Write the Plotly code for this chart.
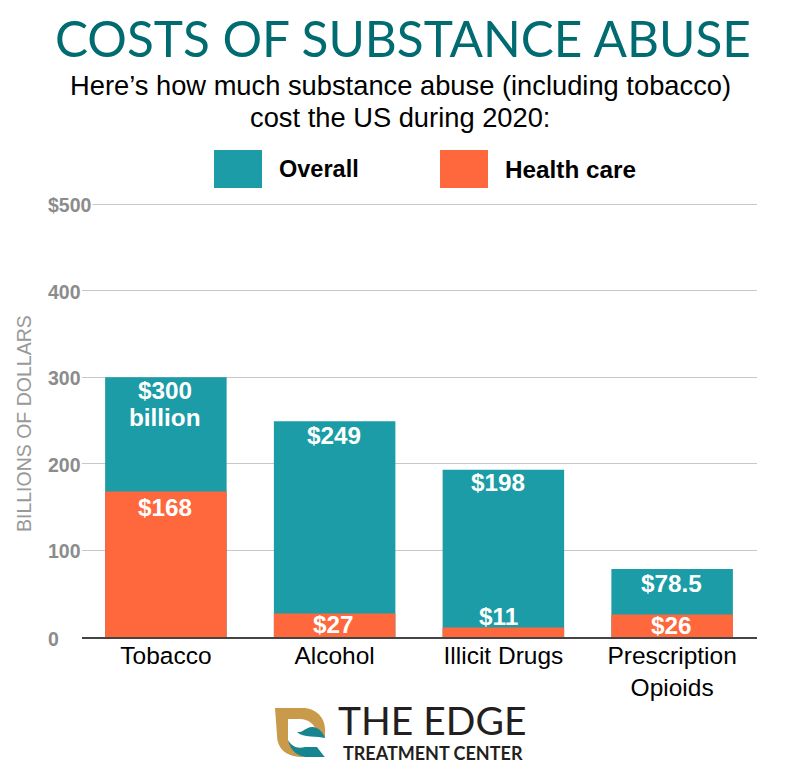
import plotly.graph_objects as go

categories = ["Tobacco", "Alcohol", "Illicit Drugs", "Prescription<br>Opioids"]
overall = [300, 249, 193, 78.5]
health_care = [168, 27, 11, 26]
overall_labels = ["$300", "$249", "$198", "$78.5"]
overall_label_y = [285, 233, 178, 62]
health_labels = ["$168", "$27", "$11", "$26"]
health_label_y = [150, 14, 24, 13]
label_shift = [-1, -1, -5, -1]
tick_vals = [0, 100, 200, 300, 400, 500]
tick_text = ["0", "100", "200", "300", "400", "$500"]

# The page sits 8 px in from the window corner
OFF = 8
W, H = 800 - OFF, 774 - OFF
TEAL = "#1b9ca6"
ORANGE = "#ff673c"
SANS = "Liberation Sans, Arial, sans-serif"
LATO = "Lato, sans-serif"
BAR_TEXT = 24.3


def px(x):
    return (x - OFF) / W


def py(y):
    return 1 - (y - OFF) / H


def path(cmds):
    out = []
    for c in cmds:
        if isinstance(c, str):
            out.append(c)
        else:
            out.append(f"{px(c[0]):.5f},{py(c[1]):.5f}")
    return " ".join(out)


fig = go.Figure()
fig.add_bar(x=categories, y=overall, name="Overall", marker_color=TEAL, marker_line_width=0, width=0.72)
fig.add_bar(x=categories, y=health_care, name="Health care", marker_color=ORANGE, marker_line_width=0, width=0.72)

ann = []


def text(x, y, s, size, color="#000", family=SANS, anchor="center", angle=0):
    ann.append(dict(xref="paper", yref="paper", x=px(x), y=py(y), text=s, showarrow=False,
                    xanchor=anchor, yanchor="middle", align="center", textangle=angle,
                    font=dict(size=size, color=color, family=family)))


text(402.5, 38, "COSTS OF SUBSTANCE ABUSE", 49.5, "#006b70", LATO)
text(400, 86, "Here’s how much substance abuse (including tobacco)", 27.3)
text(400, 118, "cost the US during 2020:", 27.3)
text(277, 169, "<b>Overall</b>", 23.5, anchor="left")
text(503, 169, "<b>Health care</b>", 24.3, anchor="left")
text(432, 720, "THE EDGE", 39, "#231f20", LATO)
text(433.5, 752.5, "<b>TREATMENT CENTER</b>", 18, "#231f20", LATO)
text(24, 424, "BILLIONS OF DOLLARS", 19.5, "#999999", SANS, angle=-90)

for val, lab in zip(tick_vals, tick_text):
    ann.append(dict(x=px(47), xref="paper", xanchor="left", y=val, yref="y", yshift=-2 if val == 0 else -1,
                    text=f"<b>{lab}</b>", showarrow=False, bgcolor="white", borderpad=0,
                    font=dict(size=19.5, color="#8c8c8c", family=SANS)))

for cat, lab, yv, sh in zip(categories, overall_labels, overall_label_y, label_shift):
    ann.append(dict(x=cat, y=yv, xref="x", yref="y", xshift=sh, text=f"<b>{lab}</b>", showarrow=False,
                    font=dict(size=BAR_TEXT, color="white", family=SANS)))
ann.append(dict(x=categories[0], y=253, xref="x", yref="y", xshift=-1, text="<b>billion</b>", showarrow=False,
                font=dict(size=BAR_TEXT, color="white", family=SANS)))
for cat, lab, yv, sh in zip(categories, health_labels, health_label_y, label_shift):
    ann.append(dict(x=cat, y=yv, xref="x", yref="y", xshift=sh, text=f"<b>{lab}</b>", showarrow=False,
                    font=dict(size=BAR_TEXT, color="white", family=SANS)))

shapes = [
    dict(type="rect", xref="paper", yref="paper", x0=px(214), x1=px(262), y0=py(188), y1=py(150),
         fillcolor=TEAL, line_width=0),
    dict(type="rect", xref="paper", yref="paper", x0=px(440), x1=px(488), y0=py(188), y1=py(150),
         fillcolor=ORANGE, line_width=0),
    dict(type="path", xref="paper", yref="paper", fillcolor="#c99a4a", line_width=0,
         path=path(["M", (275, 708), "L", (303, 708), "C", (316, 708), (325, 718), (325, 729), "L", (325, 738),
                    "L", (317, 733), "C", (315, 724), (308, 719), (300, 719), "L", (288, 719), "L", (288, 740),
                    "C", (290, 748), (296, 753), (305, 757), "L", (303, 757),
                    "C", (288, 757), (277, 750), (277, 735), "Z"])),
    dict(type="path", xref="paper", yref="paper", fillcolor="#17858f", line_width=0,
         path=path(["M", (288, 740), "C", (292, 747), (298, 749), (305, 747), "L", (317, 747),
                    "C", (320, 751), (323, 755), (325, 757), "L", (305, 757),
                    "C", (296, 755), (290, 750), (288, 740), "Z"])),
    dict(type="path", xref="paper", yref="paper", fillcolor="#17858f", line_width=0,
         path=path(["M", (297, 732), "C", (303, 733), (307, 726), (313, 727), "C", (319, 728), (323, 732), (325, 738),
                    "C", (318, 736), (303, 738), (297, 732), "Z"])),
]

fig.update_layout(
    width=W, height=H, autosize=False,
    margin=dict(l=0, r=0, t=0, b=0),
    paper_bgcolor="white", plot_bgcolor="white",
    barmode="overlay", showlegend=False,
    annotations=ann, shapes=shapes,
    xaxis=dict(domain=[px(81.5), px(756.5)], showline=True, linecolor="#444444", linewidth=1.5,
               ticks="", tickfont=dict(size=24.5, color="#000", family=SANS), tickangle=0,
               ticklabelstandoff=-4, showgrid=False, anchor="y"),
    yaxis=dict(domain=[py(637), py(199.67)], range=[0, 505], tickvals=tick_vals,
               showticklabels=False, gridcolor="#c8c8c8", gridwidth=1,
               zeroline=False, showline=False, ticks=""),
)
fig.write_html("out.html")
